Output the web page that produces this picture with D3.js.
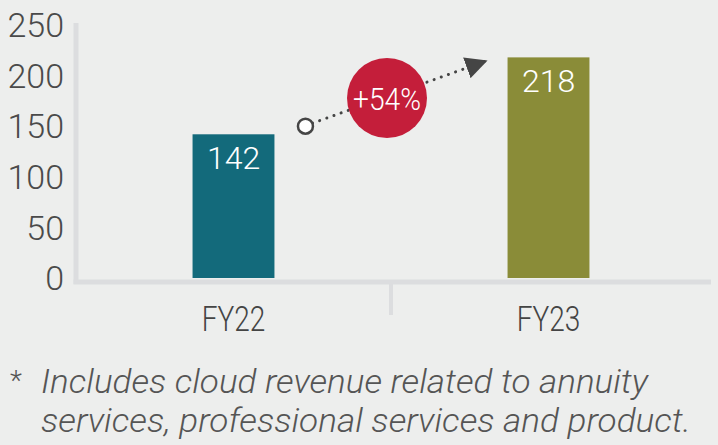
<!DOCTYPE html>
<html>
<head>
<meta charset="utf-8">
<script src="https://cdn.jsdelivr.net/npm/d3@7"></script>
<style>
  html, body { margin: 0; padding: 0; background: #edeeed; }
  svg { display: block; }
</style>
</head>
<body>
<div id="chart"></div>
<script>
// chart values
const categories = ["FY22", "FY23"];
const values = [142, 218];
const barColors = ["#136a7b", "#8a8c38"];
const yTicks = [0, 50, 100, 150, 200, 250];
const growthLabel = "+54%";
const footnoteLines = [
  "Includes cloud revenue related to annuity",
  "services, professional services and product."
];
const footnoteWidths = [607, 650];

const width = 718, height = 445;
const margin = { top: 25, right: 8, bottom: 167, left: 76 };

const svg = d3.select("#chart").append("svg")
  .attr("width", width)
  .attr("height", height);

svg.append("rect").attr("width", width).attr("height", height).attr("fill", "#edeeed");

const y = d3.scaleLinear().domain([0, 250]).range([278, margin.top]);
const x = d3.scaleBand()
  .domain(categories)
  .range([margin.left, width - 12])
  .paddingInner(0.74)
  .paddingOuter(0.37);

const lightFont = "Roboto, 'Helvetica Neue', 'Liberation Sans', sans-serif";

// axis lines
const axisColor = "#dcdddf";
svg.append("line")
  .attr("x1", margin.left).attr("x2", margin.left)
  .attr("y1", y(250) - 2).attr("y2", 284)
  .attr("stroke", axisColor).attr("stroke-width", 5);
svg.append("line")
  .attr("x1", margin.left - 2.5).attr("x2", 711)
  .attr("y1", 282).attr("y2", 282)
  .attr("stroke", axisColor).attr("stroke-width", 5);
// separator tick between the two categories
const midX = (x(categories[0]) + x(categories[1]) + x.bandwidth()) / 2;
svg.append("line")
  .attr("x1", midX).attr("x2", midX)
  .attr("y1", 282).attr("y2", 315)
  .attr("stroke", axisColor).attr("stroke-width", 4);

// y tick labels
svg.append("g")
  .selectAll("text")
  .data(yTicks)
  .join("text")
  .attr("x", 64)
  .attr("y", d => y(d))
  .attr("dy", "0.36em")
  .attr("text-anchor", "end")
  .attr("font-family", lightFont)
  .attr("font-weight", 300)
  .attr("font-size", 34)
  .attr("fill", "#4a4a4a")
  .text(d => d);

// bars
svg.append("g")
  .selectAll("rect")
  .data(values)
  .join("rect")
  .attr("x", (d, i) => x(categories[i]))
  .attr("y", d => y(d))
  .attr("width", x.bandwidth())
  .attr("height", d => y(0) - y(d))
  .attr("fill", (d, i) => barColors[i]);

// value labels
svg.append("g")
  .selectAll("text")
  .data(values)
  .join("text")
  .attr("x", (d, i) => x(categories[i]) + x.bandwidth() / 2)
  .attr("y", d => y(d) + 35)
  .attr("text-anchor", "middle")
  .attr("font-family", lightFont)
  .attr("font-weight", 300)
  .attr("font-size", 32)
  .attr("fill", "#ffffff")
  .text(d => d);

// category labels (condensed)
svg.append("g")
  .selectAll("text")
  .data(categories)
  .join("text")
  .attr("transform", d => `translate(${x(d) + x.bandwidth() / 2},331) scale(0.8,1)`)
  .attr("text-anchor", "middle")
  .attr("font-family", lightFont)
  .attr("font-weight", 300)
  .attr("font-size", 35)
  .attr("fill", "#444")
  .text(d => d);

// growth arrow
const x0 = x(categories[0]) + x.bandwidth() + 31, y0 = y(150);
const x1 = x(categories[1]) - 20, y1 = y(215);
svg.append("defs").append("marker")
  .attr("id", "arrow")
  .attr("viewBox", "0 0 10 10")
  .attr("refX", 10).attr("refY", 5)
  .attr("markerWidth", 22).attr("markerHeight", 22)
  .attr("markerUnits", "userSpaceOnUse")
  .attr("orient", "auto")
  .append("path")
  .attr("d", "M0,0 L10,5 L0,10 Z")
  .attr("fill", "#454545");

svg.append("line")
  .attr("x1", x0 + 7).attr("y1", y0 - 3)
  .attr("x2", x1).attr("y2", y1)
  .attr("stroke", "#454545")
  .attr("stroke-width", 3)
  .attr("stroke-linecap", "round")
  .attr("stroke-dasharray", "0.1,7.5")
  .attr("marker-end", "url(#arrow)");
svg.append("circle")
  .attr("cx", x0).attr("cy", y0).attr("r", 7.5)
  .attr("fill", "#ffffff")
  .attr("stroke", "#454545").attr("stroke-width", 2.5);

const cx = 387, cy = 98;
svg.append("circle")
  .attr("cx", cx).attr("cy", cy).attr("r", 40)
  .attr("fill", "#c41e3a");
svg.append("text")
  .attr("transform", `translate(${cx},${cy}) scale(0.88,1)`)
  .attr("dy", "0.36em")
  .attr("text-anchor", "middle")
  .attr("font-family", lightFont)
  .attr("font-weight", 300)
  .attr("font-size", 32)
  .attr("fill", "#ffffff")
  .text(growthLabel);

// footnote
svg.append("text")
  .attr("x", 10).attr("y", 390)
  .attr("font-family", lightFont)
  .attr("font-weight", 300)
  .attr("font-size", 28)
  .attr("fill", "#555")
  .text("*");
svg.append("g")
  .selectAll("text")
  .data(footnoteLines)
  .join("text")
  .attr("x", 41)
  .attr("y", (d, i) => 393 + i * 39)
  .attr("font-family", lightFont)
  .attr("font-weight", 300)
  .attr("font-style", "italic")
  .attr("font-size", 33)
  .attr("fill", "#555")
  .attr("textLength", (d, i) => footnoteWidths[i])
  .attr("lengthAdjust", "spacingAndGlyphs")
  .text(d => d);
</script>
</body>
</html>
